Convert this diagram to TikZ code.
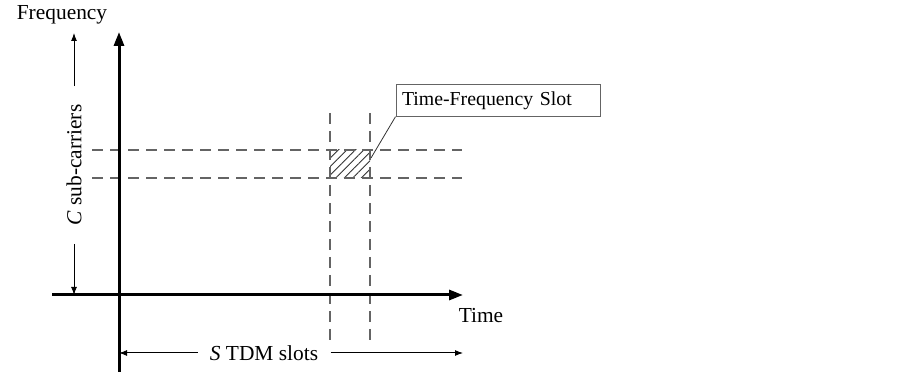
\documentclass[tikz,border=0pt]{standalone}
\usepackage{fontspec}
\setmainfont{Liberation Serif}
\usepackage{tikz}
\usetikzlibrary{arrows.meta, patterns.meta, positioning}

\definecolor{dashgray}{RGB}{100, 100, 100}

\begin{document}
\begin{tikzpicture}[
        x=0.5pt, y=-0.5pt,
        axis/.style={-{Triangle[length=7pt, width=5pt]}, line width=1.5pt},
        dim/.style={-{Latex[length=4pt, width=3pt]}, line width=0.5pt},
        grid/.style={dashgray, line width=0.6pt, dash pattern=on 5.5pt off 3.5pt},
        slotbox/.style={draw=dashgray, line width=0.5pt, minimum width=102pt, minimum height=15.5pt,
            text width=96pt, inner xsep=3pt, align=left, font=\fontsize{9.9}{12}\selectfont},
        label/.style={font=\fontsize{10.7}{13}\selectfont}
    ]
        \useasboundingbox (0,0) rectangle (903,378);

        % Axes
        \coordinate (ybot) at (119,372);
        \coordinate (ytop) at (119,32);
        \coordinate (xleft) at (52,295);
        \coordinate (xright) at (463,295);

        % Dashed grid lines around the slot
        \coordinate (h1a) at (92,150);
        \coordinate (h1b) at (462,150);
        \coordinate (h2a) at (92,178);
        \coordinate (h2b) at (462,178);
        \coordinate (v1a) at (330,113);
        \coordinate (v1b) at (330,340);
        \coordinate (v2a) at (370,113);
        \coordinate (v2b) at (370,340);

        % Hatched time-frequency slot
        \fill[pattern={Lines[angle=45, distance=3pt, line width=0.4pt]}, pattern color=black!80]
            (330,150) rectangle (370,178);

        \draw[grid] (h1a) -- (h1b);
        \draw[grid] (h2a) -- (h2b);
        \draw[grid] (v1a) -- (v1b);
        \draw[grid] (v2a) -- (v2b);

        \draw[axis] (ybot) -- (ytop);
        \draw[axis] (xleft) -- (xright);

        % Axis labels
        \node[label] (freq) at (62,15) {Frequency};
        \node[label] (time) at (481,316) {Time};

        % C sub-carriers dimension
        \coordinate (ctop) at (74,33);
        \coordinate (cbot) at (74,295);
        \node[label, rotate=90, inner xsep=9pt] (carriers) at (74,165) {\textit{C} sub-carriers};
        \draw[dim] (carriers) -- (ctop);
        \draw[dim] (carriers) -- (cbot);

        % S TDM slots dimension
        \coordinate (sleft) at (119,353);
        \coordinate (sright) at (463,353);
        \node[label, inner xsep=6pt] (slots) at (264,353) {\textit{S} TDM slots};
        \draw[dim] (slots) -- (sleft);
        \draw[dim] (slots) -- (sright);

        % Callout
        \node[slotbox] (slot) at (498,100.5) {Time-Frequency Slot};
        \coordinate (slotpt) at (371,158);
        \draw[line width=0.4pt, black!80] (slot.south west) -- (slotpt);
    \end{tikzpicture}
\end{document}
